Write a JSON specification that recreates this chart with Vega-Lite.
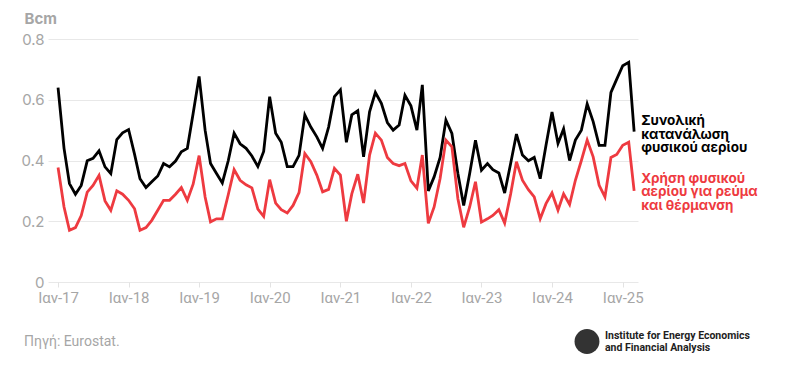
{
  "$schema": "https://vega.github.io/schema/vega-lite/v6.json",
  "width": 590,
  "height": 243,
  "autosize": {"type": "none"},
  "padding": {"left": 48, "top": 39, "right": 157, "bottom": 101},
  "background": "white",
  "config": {"view": {"stroke": null}},
  "data": {"values": [
    {"date": "2017-01-01", "total": 0.64, "power": 0.377},
    {"date": "2017-02-01", "total": 0.44, "power": 0.247},
    {"date": "2017-03-01", "total": 0.324, "power": 0.17},
    {"date": "2017-04-01", "total": 0.289, "power": 0.179},
    {"date": "2017-05-01", "total": 0.318, "power": 0.219},
    {"date": "2017-06-01", "total": 0.399, "power": 0.296},
    {"date": "2017-07-01", "total": 0.407, "power": 0.318},
    {"date": "2017-08-01", "total": 0.432, "power": 0.351},
    {"date": "2017-09-01", "total": 0.379, "power": 0.267},
    {"date": "2017-10-01", "total": 0.357, "power": 0.236},
    {"date": "2017-11-01", "total": 0.469, "power": 0.30},
    {"date": "2017-12-01", "total": 0.491, "power": 0.289},
    {"date": "2018-01-01", "total": 0.502, "power": 0.269},
    {"date": "2018-02-01", "total": 0.42, "power": 0.241},
    {"date": "2018-03-01", "total": 0.34, "power": 0.17},
    {"date": "2018-04-01", "total": 0.311, "power": 0.179},
    {"date": "2018-05-01", "total": 0.33, "power": 0.203},
    {"date": "2018-06-01", "total": 0.349, "power": 0.236},
    {"date": "2018-07-01", "total": 0.39, "power": 0.269},
    {"date": "2018-08-01", "total": 0.379, "power": 0.269},
    {"date": "2018-09-01", "total": 0.398, "power": 0.289},
    {"date": "2018-10-01", "total": 0.429, "power": 0.311},
    {"date": "2018-11-01", "total": 0.44, "power": 0.269},
    {"date": "2018-12-01", "total": 0.555, "power": 0.322},
    {"date": "2019-01-01", "total": 0.677, "power": 0.416},
    {"date": "2019-02-01", "total": 0.50, "power": 0.28},
    {"date": "2019-03-01", "total": 0.39, "power": 0.198},
    {"date": "2019-04-01", "total": 0.357, "power": 0.208},
    {"date": "2019-05-01", "total": 0.326, "power": 0.208},
    {"date": "2019-06-01", "total": 0.40, "power": 0.288},
    {"date": "2019-07-01", "total": 0.49, "power": 0.37},
    {"date": "2019-08-01", "total": 0.455, "power": 0.335},
    {"date": "2019-09-01", "total": 0.44, "power": 0.32},
    {"date": "2019-10-01", "total": 0.415, "power": 0.31},
    {"date": "2019-11-01", "total": 0.38, "power": 0.24},
    {"date": "2019-12-01", "total": 0.43, "power": 0.216},
    {"date": "2020-01-01", "total": 0.61, "power": 0.337},
    {"date": "2020-02-01", "total": 0.49, "power": 0.26},
    {"date": "2020-03-01", "total": 0.46, "power": 0.238},
    {"date": "2020-04-01", "total": 0.38, "power": 0.227},
    {"date": "2020-05-01", "total": 0.38, "power": 0.252},
    {"date": "2020-06-01", "total": 0.417, "power": 0.294},
    {"date": "2020-07-01", "total": 0.55, "power": 0.423},
    {"date": "2020-08-01", "total": 0.51, "power": 0.396},
    {"date": "2020-09-01", "total": 0.478, "power": 0.352},
    {"date": "2020-10-01", "total": 0.44, "power": 0.297},
    {"date": "2020-11-01", "total": 0.51, "power": 0.305},
    {"date": "2020-12-01", "total": 0.61, "power": 0.374},
    {"date": "2021-01-01", "total": 0.633, "power": 0.352},
    {"date": "2021-02-01", "total": 0.46, "power": 0.20},
    {"date": "2021-03-01", "total": 0.55, "power": 0.29},
    {"date": "2021-04-01", "total": 0.564, "power": 0.355},
    {"date": "2021-05-01", "total": 0.412, "power": 0.26},
    {"date": "2021-06-01", "total": 0.56, "power": 0.418},
    {"date": "2021-07-01", "total": 0.624, "power": 0.49},
    {"date": "2021-08-01", "total": 0.588, "power": 0.467},
    {"date": "2021-09-01", "total": 0.525, "power": 0.41},
    {"date": "2021-10-01", "total": 0.50, "power": 0.39},
    {"date": "2021-11-01", "total": 0.517, "power": 0.383},
    {"date": "2021-12-01", "total": 0.615, "power": 0.39},
    {"date": "2022-01-01", "total": 0.58, "power": 0.333},
    {"date": "2022-02-01", "total": 0.50, "power": 0.309},
    {"date": "2022-03-01", "total": 0.649, "power": 0.418},
    {"date": "2022-04-01", "total": 0.30, "power": 0.193},
    {"date": "2022-05-01", "total": 0.346, "power": 0.247},
    {"date": "2022-06-01", "total": 0.41, "power": 0.341},
    {"date": "2022-07-01", "total": 0.533, "power": 0.467},
    {"date": "2022-08-01", "total": 0.489, "power": 0.445},
    {"date": "2022-09-01", "total": 0.357, "power": 0.274},
    {"date": "2022-10-01", "total": 0.252, "power": 0.18},
    {"date": "2022-11-01", "total": 0.357, "power": 0.247},
    {"date": "2022-12-01", "total": 0.467, "power": 0.33},
    {"date": "2023-01-01", "total": 0.368, "power": 0.197},
    {"date": "2023-02-01", "total": 0.39, "power": 0.208},
    {"date": "2023-03-01", "total": 0.37, "power": 0.219},
    {"date": "2023-04-01", "total": 0.359, "power": 0.238},
    {"date": "2023-05-01", "total": 0.293, "power": 0.194},
    {"date": "2023-06-01", "total": 0.39, "power": 0.29},
    {"date": "2023-07-01", "total": 0.487, "power": 0.396},
    {"date": "2023-08-01", "total": 0.418, "power": 0.335},
    {"date": "2023-09-01", "total": 0.399, "power": 0.304},
    {"date": "2023-10-01", "total": 0.41, "power": 0.28},
    {"date": "2023-11-01", "total": 0.34, "power": 0.208},
    {"date": "2023-12-01", "total": 0.45, "power": 0.258},
    {"date": "2024-01-01", "total": 0.56, "power": 0.293},
    {"date": "2024-02-01", "total": 0.456, "power": 0.236},
    {"date": "2024-03-01", "total": 0.504, "power": 0.29},
    {"date": "2024-04-01", "total": 0.40, "power": 0.255},
    {"date": "2024-05-01", "total": 0.467, "power": 0.335},
    {"date": "2024-06-01", "total": 0.50, "power": 0.40},
    {"date": "2024-07-01", "total": 0.586, "power": 0.467},
    {"date": "2024-08-01", "total": 0.528, "power": 0.412},
    {"date": "2024-09-01", "total": 0.45, "power": 0.318},
    {"date": "2024-10-01", "total": 0.45, "power": 0.28},
    {"date": "2024-11-01", "total": 0.624, "power": 0.41},
    {"date": "2024-12-01", "total": 0.668, "power": 0.42},
    {"date": "2025-01-01", "total": 0.712, "power": 0.45},
    {"date": "2025-02-01", "total": 0.723, "power": 0.46},
    {"date": "2025-03-01", "total": 0.495, "power": 0.30}
  ]},
  "layer": [
    {
      "transform": [{"fold": ["total", "power"], "as": ["series", "value"]}],
      "mark": {"type": "line", "strokeWidth": 2.8, "strokeJoin": "miter"},
      "encoding": {
        "x": {
          "field": "date", "type": "temporal",
          "scale": {"type": "utc", "domain": [{"year": 2016, "month": 11, "date": 10, "utc": true}, {"year": 2025, "month": 3, "date": 21, "utc": true}]},
          "axis": {
            "title": null,
            "values": [
              {"year": 2017, "month": 1, "date": 1, "utc": true},
              {"year": 2018, "month": 1, "date": 1, "utc": true},
              {"year": 2019, "month": 1, "date": 1, "utc": true},
              {"year": 2020, "month": 1, "date": 1, "utc": true},
              {"year": 2021, "month": 1, "date": 1, "utc": true},
              {"year": 2022, "month": 1, "date": 1, "utc": true},
              {"year": 2023, "month": 1, "date": 1, "utc": true},
              {"year": 2024, "month": 1, "date": 1, "utc": true},
              {"year": 2025, "month": 1, "date": 1, "utc": true}
            ],
            "labelExpr": "'Ιαν-' + utcFormat(datum.value, '%y')",
            "grid": false, "domain": false, "ticks": true, "tickColor": "#e3e3e3", "tickSize": 5,
            "labelFont": "Roboto", "labelFontSize": 15, "labelColor": "#a6a6a6", "labelPadding": 3
          }
        },
        "y": {
          "field": "value", "type": "quantitative",
          "scale": {"domain": [0, 0.8], "nice": false},
          "axis": {
            "values": [0, 0.2, 0.4, 0.6, 0.8],
            "labelExpr": "datum.value == 0 ? '0' : format(datum.value, '.1f')",
            "domain": false, "ticks": false, "grid": true, "gridColor": "#e8e8e8", "gridWidth": 1,
            "labelFont": "Inter", "labelFontSize": 15, "labelColor": "#a6a6a6", "labelPadding": 4,
            "title": "Bcm", "titleAngle": 0, "titleAlign": "left", "titleBaseline": "alphabetic",
            "titleX": -24, "titleY": -16, "titleFont": "Inter", "titleFontWeight": "bold", "titleFontSize": 15, "titleColor": "#a6a6a6"
          }
        },
        "color": {"field": "series", "type": "nominal", "scale": {"domain": ["total", "power"], "range": ["#000000", "#ee3a40"]}, "legend": null}
      }
    },
    {
      "transform": [{"filter": {"field": "date", "equal": {"year": 2025, "month": 3, "date": 1, "utc": true}}}],
      "mark": {"type": "text", "align": "left", "baseline": "middle", "dx": 7, "dy": -10.5, "font": "Inter", "fontWeight": "bold", "fontSize": 13.5, "lineHeight": 13.5, "lineBreak": "\n", "color": "#000000"},
      "encoding": {
        "x": {"field": "date", "type": "temporal"},
        "y": {"field": "total", "type": "quantitative"},
        "text": {"value": "Συνολική\nκατανάλωση\nφυσικού αερίου"}
      }
    },
    {
      "transform": [{"filter": {"field": "date", "equal": {"year": 2025, "month": 3, "date": 1, "utc": true}}}],
      "mark": {"type": "text", "align": "left", "baseline": "middle", "dx": 7, "dy": -12, "font": "Inter", "fontWeight": "bold", "fontSize": 13.5, "lineHeight": 13.5, "lineBreak": "\n", "color": "#ee3a40"},
      "encoding": {
        "x": {"field": "date", "type": "temporal"},
        "y": {"field": "power", "type": "quantitative"},
        "text": {"value": "Χρήση φυσικού\nαερίου για ρεύμα\nκαι θέρμανση"}
      }
    },
    {
      "data": {"values": [{"note": "Πηγή: Eurostat."}]},
      "mark": {"type": "text", "align": "left", "baseline": "middle", "font": "Roboto", "fontSize": 14, "color": "#a6a6a6"},
      "encoding": {
        "x": {"datum": {"year": 2016, "month": 7, "date": 9, "utc": true}, "type": "temporal"},
        "y": {"datum": -0.196, "type": "quantitative"},
        "text": {"field": "note"}
      }
    },
    {
      "data": {"values": [{"logo": "IEEFA"}]},
      "mark": {"type": "point", "shape": "circle", "filled": true, "size": 620, "color": "#333333", "opacity": 1},
      "encoding": {
        "x": {"datum": {"year": 2024, "month": 6, "date": 30, "utc": true}, "type": "temporal"},
        "y": {"datum": -0.196, "type": "quantitative"}
      }
    },
    {
      "data": {"values": [{"name": "Institute for Energy Economics\nand Financial Analysis"}]},
      "mark": {"type": "text", "align": "left", "baseline": "middle", "dy": -6, "font": "Roboto", "fontWeight": "bold", "fontSize": 10.5, "lineHeight": 12, "lineBreak": "\n", "color": "#1e1e1e"},
      "encoding": {
        "x": {"datum": {"year": 2024, "month": 10, "date": 1, "utc": true}, "type": "temporal"},
        "y": {"datum": -0.196, "type": "quantitative"},
        "text": {"field": "name"}
      }
    }
  ]
}
